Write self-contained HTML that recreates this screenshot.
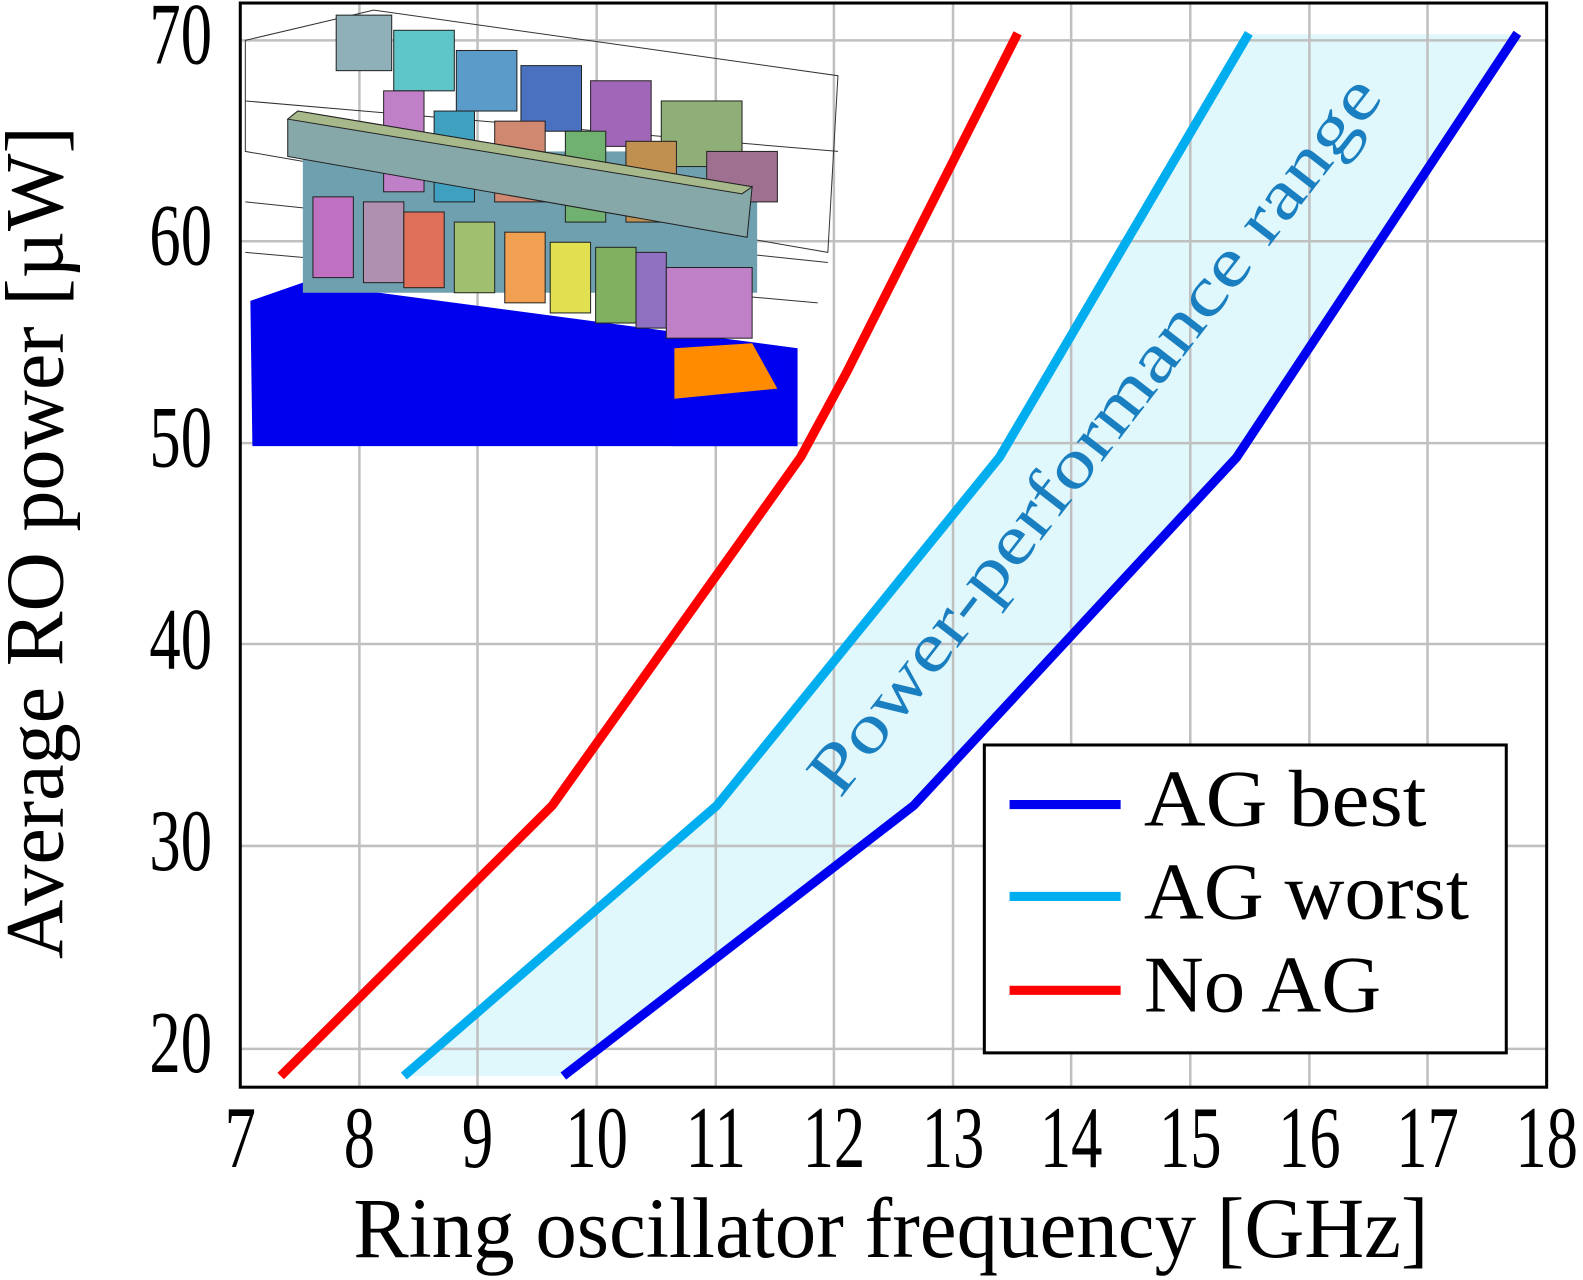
<!DOCTYPE html>
<html><head><meta charset="utf-8"><style>html,body{margin:0;padding:0;background:#fff;}svg{display:block}</style></head>
<body>
<svg width="1583" height="1280" viewBox="0 0 1568 1268" preserveAspectRatio="none" xmlns="http://www.w3.org/2000/svg" font-family="'Liberation Serif', serif">
<rect width="1568" height="1268" fill="#fff"/>
<polygon points="400,1066 710,798 990,453 1237,34 1503,34 1225,453 905,798 558,1066" fill="#e0f8fc"/>
<g stroke="#c0c0c0" stroke-width="2.5">
<line x1="356" y1="3" x2="356" y2="1077"/><line x1="473" y1="3" x2="473" y2="1077"/><line x1="591" y1="3" x2="591" y2="1077"/><line x1="709" y1="3" x2="709" y2="1077"/><line x1="826" y1="3" x2="826" y2="1077"/><line x1="944" y1="3" x2="944" y2="1077"/><line x1="1061" y1="3" x2="1061" y2="1077"/><line x1="1179" y1="3" x2="1179" y2="1077"/><line x1="1297" y1="3" x2="1297" y2="1077"/><line x1="1414" y1="3" x2="1414" y2="1077"/>
<line x1="238" y1="1039" x2="1532" y2="1039"/><line x1="238" y1="838" x2="1532" y2="838"/><line x1="238" y1="638" x2="1532" y2="638"/><line x1="238" y1="439" x2="1532" y2="439"/><line x1="238" y1="239" x2="1532" y2="239"/><line x1="238" y1="40" x2="1532" y2="40"/>
</g>
<g>
<polygon points="248,298 300,280 790,345 790,442 250,442" fill="#0000ee"/>
<polygon points="665,330 770,345 790,442 665,442" fill="#0000f0"/>
<polygon points="668,345 745,340 770,385 668,395" fill="#ff8c00"/>
<g stroke="#333" stroke-width="1" fill="none">
<polygon points="243,40 370,10 830,75 820,250 243,150"/>
<line x1="243" y1="100" x2="830" y2="150"/><line x1="243" y1="200" x2="820" y2="260"/><line x1="243" y1="250" x2="810" y2="300"/>
</g>
<rect x="300" y="150" width="450" height="140" fill="#6fa0b0"/>
<g stroke="#222" stroke-width="1">
<rect x="333" y="15" width="55" height="55" fill="#8fb0b8"/><rect x="390" y="30" width="60" height="60" fill="#5ec5c8"/><rect x="452" y="50" width="60" height="60" fill="#5b9bc9"/><rect x="516" y="65" width="60" height="65" fill="#4a70c0"/><rect x="585" y="80" width="60" height="65" fill="#a066b8"/><rect x="655" y="100" width="80" height="65" fill="#8fae78"/>
<rect x="380" y="90" width="40" height="100" fill="#c080c8"/><rect x="430" y="110" width="40" height="90" fill="#40a0c0"/><rect x="490" y="120" width="50" height="80" fill="#d08870"/><rect x="560" y="130" width="40" height="90" fill="#70b070"/><rect x="620" y="140" width="50" height="80" fill="#c09050"/><rect x="700" y="150" width="70" height="50" fill="#a07090"/>
<rect x="310" y="195" width="40" height="80" fill="#c070c0"/><rect x="360" y="200" width="40" height="80" fill="#b090b0"/><rect x="400" y="210" width="40" height="75" fill="#e0705a"/><rect x="450" y="220" width="40" height="70" fill="#a0c070"/><rect x="500" y="230" width="40" height="70" fill="#f0a050"/><rect x="545" y="240" width="40" height="70" fill="#e0e050"/><rect x="590" y="245" width="40" height="75" fill="#80b060"/><rect x="630" y="250" width="30" height="75" fill="#9070c0"/><rect x="660" y="265" width="85" height="70" fill="#c080c8"/>
<polygon points="285,118 295,110 745,185 740,235 285,155" fill="#86a8a8"/>
<polygon points="285,118 295,110 745,185 735,192" fill="#a7b88a"/>
</g>
</g>
<g fill="none" stroke-width="9" stroke-linejoin="round">
<polyline points="278,1066 547,798 793,453 838,370 1008,33" stroke="#ff0000"/>
<polyline points="400,1066 710,798 990,453 1237,33" stroke="#00aeef"/>
<polyline points="558,1066 905,798 1225,453 1503,33" stroke="#0000f0"/>
</g>
<rect x="238" y="3" width="1294" height="1074" fill="none" stroke="#000" stroke-width="3"/>
<text x="0" y="0" transform="translate(832,792) rotate(-52.2) scale(1,1.15)" font-size="60" fill="#1a7fc0" textLength="880" lengthAdjust="spacingAndGlyphs">Power-performance range</text>
<rect x="975" y="738" width="517" height="305" fill="#fff" stroke="#000" stroke-width="3"/>
<line x1="1000" y1="797" x2="1110" y2="797" stroke="#0000f0" stroke-width="9"/>
<line x1="1000" y1="888" x2="1110" y2="888" stroke="#00aeef" stroke-width="9"/>
<line x1="1000" y1="981" x2="1110" y2="981" stroke="#ff0000" stroke-width="9"/>
<g font-size="64">
<text transform="translate(1133,818) scale(1,1.25)" textLength="280" lengthAdjust="spacingAndGlyphs">AG best</text>
<text transform="translate(1133,910) scale(1,1.25)" textLength="322" lengthAdjust="spacingAndGlyphs">AG worst</text>
<text transform="translate(1133,1002) scale(1,1.25)" textLength="235" lengthAdjust="spacingAndGlyphs">No AG</text>
</g>
<g font-size="62" text-anchor="middle">
<text transform="translate(238,1156) scale(1,1.4)">7</text><text transform="translate(356,1156) scale(1,1.4)">8</text><text transform="translate(473,1156) scale(1,1.4)">9</text><text transform="translate(591,1156) scale(1,1.4)">10</text><text transform="translate(709,1156) scale(1,1.4)">11</text><text transform="translate(826,1156) scale(1,1.4)">12</text><text transform="translate(944,1156) scale(1,1.4)">13</text><text transform="translate(1061,1156) scale(1,1.4)">14</text><text transform="translate(1179,1156) scale(1,1.4)">15</text><text transform="translate(1297,1156) scale(1,1.4)">16</text><text transform="translate(1414,1156) scale(1,1.4)">17</text><text transform="translate(1532,1156) scale(1,1.4)">18</text>
</g>
<g font-size="62" text-anchor="end">
<text transform="translate(210,1062) scale(1,1.4)">20</text><text transform="translate(210,862) scale(1,1.4)">30</text><text transform="translate(210,662) scale(1,1.4)">40</text><text transform="translate(210,462) scale(1,1.4)">50</text><text transform="translate(210,262) scale(1,1.4)">60</text><text transform="translate(210,63) scale(1,1.4)">70</text>
</g>
<text transform="translate(350,1245) scale(1,1.25)" font-size="68" textLength="1065" lengthAdjust="spacingAndGlyphs">Ring oscillator frequency [GHz]</text>
<text transform="translate(62,950) rotate(-90) scale(1,1.2)" font-size="68" textLength="825" lengthAdjust="spacingAndGlyphs">Average RO power [µW]</text>
</svg>
</body></html>
